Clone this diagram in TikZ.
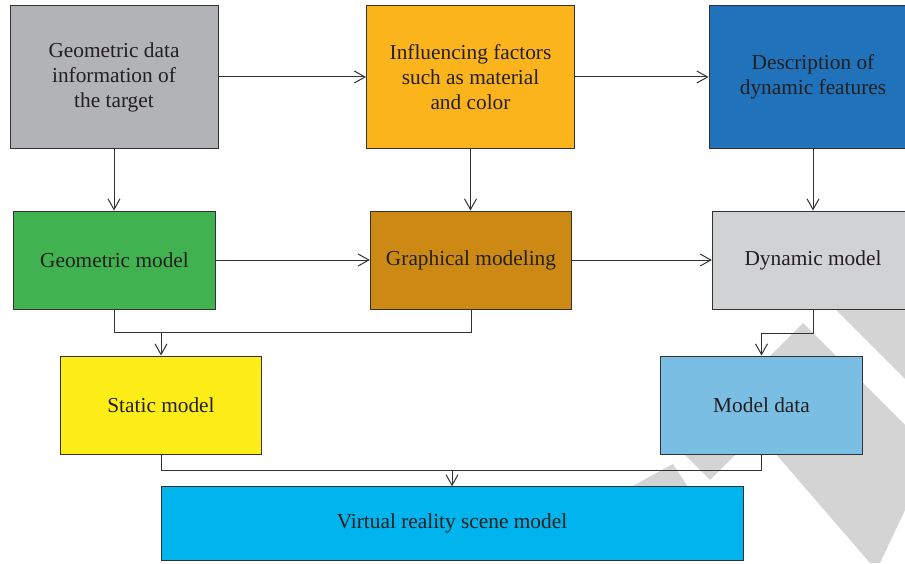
\documentclass[tikz,border=0pt]{standalone}
\usepackage{fontspec}
\setmainfont{Liberation Serif}
\usetikzlibrary{arrows.meta}

\definecolor{txtgray}{RGB}{35,31,32}
\definecolor{edgegray}{RGB}{50,50,50}
\definecolor{geodata}{RGB}{177,179,182}
\definecolor{factors}{RGB}{251,180,27}
\definecolor{dynfeat}{RGB}{32,114,186}
\definecolor{geomodel}{RGB}{65,178,80}
\definecolor{graphmod}{RGB}{204,138,20}
\definecolor{dynmodel}{RGB}{209,210,212}
\definecolor{staticmod}{RGB}{252,238,22}
\definecolor{modeldata}{RGB}{122,190,228}
\definecolor{vrscene}{RGB}{0,180,238}
\definecolor{wmark}{RGB}{212,212,212}

\tikzset{every picture/.style={line width=0.75pt}}
\tikzset{
  blk/.style={draw=edgegray, text=txtgray, inner sep=0pt, align=center,
    font=\fontsize{16}{18.75}\selectfont},
  topblk/.style={blk, minimum width=156pt, minimum height=106.5pt},
  midblk/.style={blk, minimum width=151pt, minimum height=73.5pt},
  flow/.style={draw=edgegray, -{Straight Barb[length=8pt,width=9pt]}},
  mergeline/.style={draw=edgegray},
}

\begin{document}
\begin{tikzpicture}[x=0.75pt,y=0.75pt,yscale=-1,xscale=1]
    \useasboundingbox (0,0) rectangle (905,563);

    %Shape: watermark stripes
    \fill[wmark] (826,300) -- (905,300) -- (905,379) -- cycle;
    \fill[wmark] (803,323) -- (905,425) -- (905,510) -- (880,563) -- (870,563) -- (775,453) -- (728,398) -- cycle;
    \fill[wmark] (684,454) -- (710,480) -- (736,454) -- cycle;
    \fill[wmark] (673,464) -- (688,487) -- (631,487) -- cycle;

    %Shape: top row
    \node[topblk, fill=geodata] (geodata) at (114,77) {Geometric data\\information of\\the target};
    \node[topblk, fill=factors] (factors) at (470.5,77) {Influencing factors\\such as material\\and color};
    \node[topblk, fill=dynfeat] (dynfeat) at (813,77) {Description of\\dynamic features};

    %Shape: middle row
    \node[midblk, fill=geomodel] (geomodel) at (114.5,260) {Geometric model};
    \node[midblk, fill=graphmod] (graphmod) at (471,260) {Graphical modeling};
    \node[midblk, fill=dynmodel] (dynmodel) at (813,260) {Dynamic model};

    %Shape: lower row
    \node[midblk, fill=staticmod] (staticmod) at (161,405) {Static model};
    \node[midblk, fill=modeldata] (modeldata) at (761.5,405) {Model data};
    \node[blk, fill=vrscene, minimum width=436.5pt, minimum height=55pt] (vrscene) at (452,523.5) {Virtual reality scene model};

    %Junction points
    \coordinate (jstatic) at (161,332);
    \coordinate (jdata) at (761.5,333);
    \coordinate (jscene) at (452,470);

    %Straight Lines: horizontal arrows
    \draw[flow] (geodata) -- (factors);
    \draw[flow] (factors) -- (dynfeat);
    \draw[flow] (geomodel) -- (graphmod);
    \draw[flow] (graphmod) -- (dynmodel);

    %Straight Lines: vertical arrows
    \draw[flow] (geodata.south) -- (geodata.south |- geomodel.north);
    \draw[flow] (factors.south) -- (factors.south |- graphmod.north);
    \draw[flow] (dynfeat.south) -- (dynmodel.north);

    %Straight Lines: merge into static model
    \draw[mergeline] (geomodel.south) -- (geomodel.south |- jstatic) -- (graphmod.south |- jstatic) -- (graphmod.south);
    \draw[flow] (jstatic) -- (staticmod.north);

    %Straight Lines: dynamic model to model data
    \draw[flow] (dynmodel.south) |- (jdata) -- (modeldata.north);

    %Straight Lines: merge into scene model
    \draw[mergeline] (staticmod.south) -- (staticmod.south |- jscene) -- (modeldata.south |- jscene) -- (modeldata.south);
    \draw[flow] (jscene) -- (vrscene.north);

\end{tikzpicture}
\end{document}
